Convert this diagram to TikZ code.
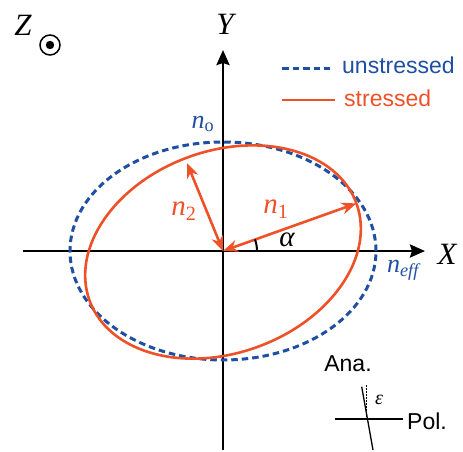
\documentclass[tikz,border=0pt]{standalone}
\usepackage{fontspec}
\setmainfont{Liberation Serif}
\setsansfont{Liberation Sans}
\usetikzlibrary{arrows.meta, positioning}
\definecolor{cblue}{HTML}{1F4FA3}
\definecolor{cred}{HTML}{EE5128}
\tikzset{
  every picture/.style={x=1pt, y=1pt},
  axis/.style={-{Stealth[length=15pt, width=13pt, inset=2pt]}, line width=2.4pt},
  unstr/.style={draw=cblue, line width=3pt, dash pattern=on 6.5pt off 4pt},
  strs/.style={draw=cred, line width=2.6pt},
  vec/.style={{Stealth[length=15pt, width=12pt]}-{Stealth[length=15pt, width=12pt]}, draw=cred, line width=2.6pt},
  axlabel/.style={font=\itshape\fontsize{31}{31}\selectfont, inner sep=0pt},
  sym/.style={font=\itshape\fontsize{29}{29}\selectfont, inner sep=0pt},
  legend/.style={font=\sffamily\fontsize{23}{23}\selectfont, anchor=base west, inner sep=0pt},
  thin/.style={line width=1.3pt},
}

\begin{document}
\begin{tikzpicture}
  \useasboundingbox (-223,-200) rectangle (240,251);
  \coordinate (O) at (0,0);
  \coordinate (xs) at (-200,0); \coordinate (xe) at (202,0);
  \coordinate (ys) at (0,-199); \coordinate (ye) at (0,201);
  \draw[axis] (xs) -- (xe);
  \draw[axis] (ys) -- (ye);
  \node[axlabel] (xl) at (224,-3) {X};
  \node[axlabel] (yl) at (2,227) {Y};
  \node[axlabel] (zl) at (-200,226) {Z};
  \node[circle, draw, line width=1.5pt, minimum size=20pt, inner sep=0pt] (zdir) at (-173,206) {};
  \fill (zdir.center) circle (4.2);
  \draw[unstr] (O) ellipse [x radius=153, y radius=109];
  \draw[strs, rotate around={20:(0,-1)}] (0,-1) ellipse [x radius=142, y radius=101];
  \coordinate (t1) at (133.4,47.6);
  \coordinate (t2) at (-36,88);
  \draw[vec] (O) -- (t1);
  \draw[vec] (O) -- (t2);
  \draw[line width=2pt] (34,0) arc [start angle=0, end angle=20, radius=34];
  \node[sym] (alpha) at (64,11) {α};
  \node[sym, text=cred] (n1) at (53,42) {n\textsubscript{\upshape 1}};
  \node[sym, text=cred] (n2) at (-39,40) {n\textsubscript{\upshape 2}};
  \node[sym, text=cblue, font=\itshape\fontsize{26}{26}\selectfont] (no) at (-20,127) {n\textsubscript{\upshape o}};
  \node[sym, text=cblue, font=\itshape\fontsize{26}{26}\selectfont] (neff) at (180,-19) {n\textsubscript{eff}};
  \coordinate (l1s) at (59,183); \coordinate (l1e) at (107,183);
  \coordinate (l2s) at (59,151); \coordinate (l2e) at (112,151);
  \draw[unstr] (l1s) -- (l1e);
  \draw[strs] (l2s) -- (l2e);
  \node[legend, text=cblue] (lun) at (119,177.5) {unstressed};
  \node[legend, text=cred] (lst) at (121,144.5) {stressed};
  \node[legend, anchor=center] (ana) at (125,-113) {Ana.};
  \coordinate (ps) at (112,-168); \coordinate (pe) at (180,-168);
  \node[legend, anchor=west] (pol) at (184,-170) {Pol.};
  \coordinate (as) at (138.7,-135.7); \coordinate (ae) at (150,-199);
  \coordinate (ds) at (143.7,-134); \coordinate (de) at (143.7,-168);
  \draw[thin] (ps) -- (pe);
  \draw[thin] (as) -- (ae);
  \draw[thin, dash pattern=on 1.5pt off 1.5pt] (ds) -- (de);
  \node[sym, font=\itshape\fontsize{20}{20}\selectfont] (eps) at (156,-149) {ε};
\end{tikzpicture}
\end{document}
